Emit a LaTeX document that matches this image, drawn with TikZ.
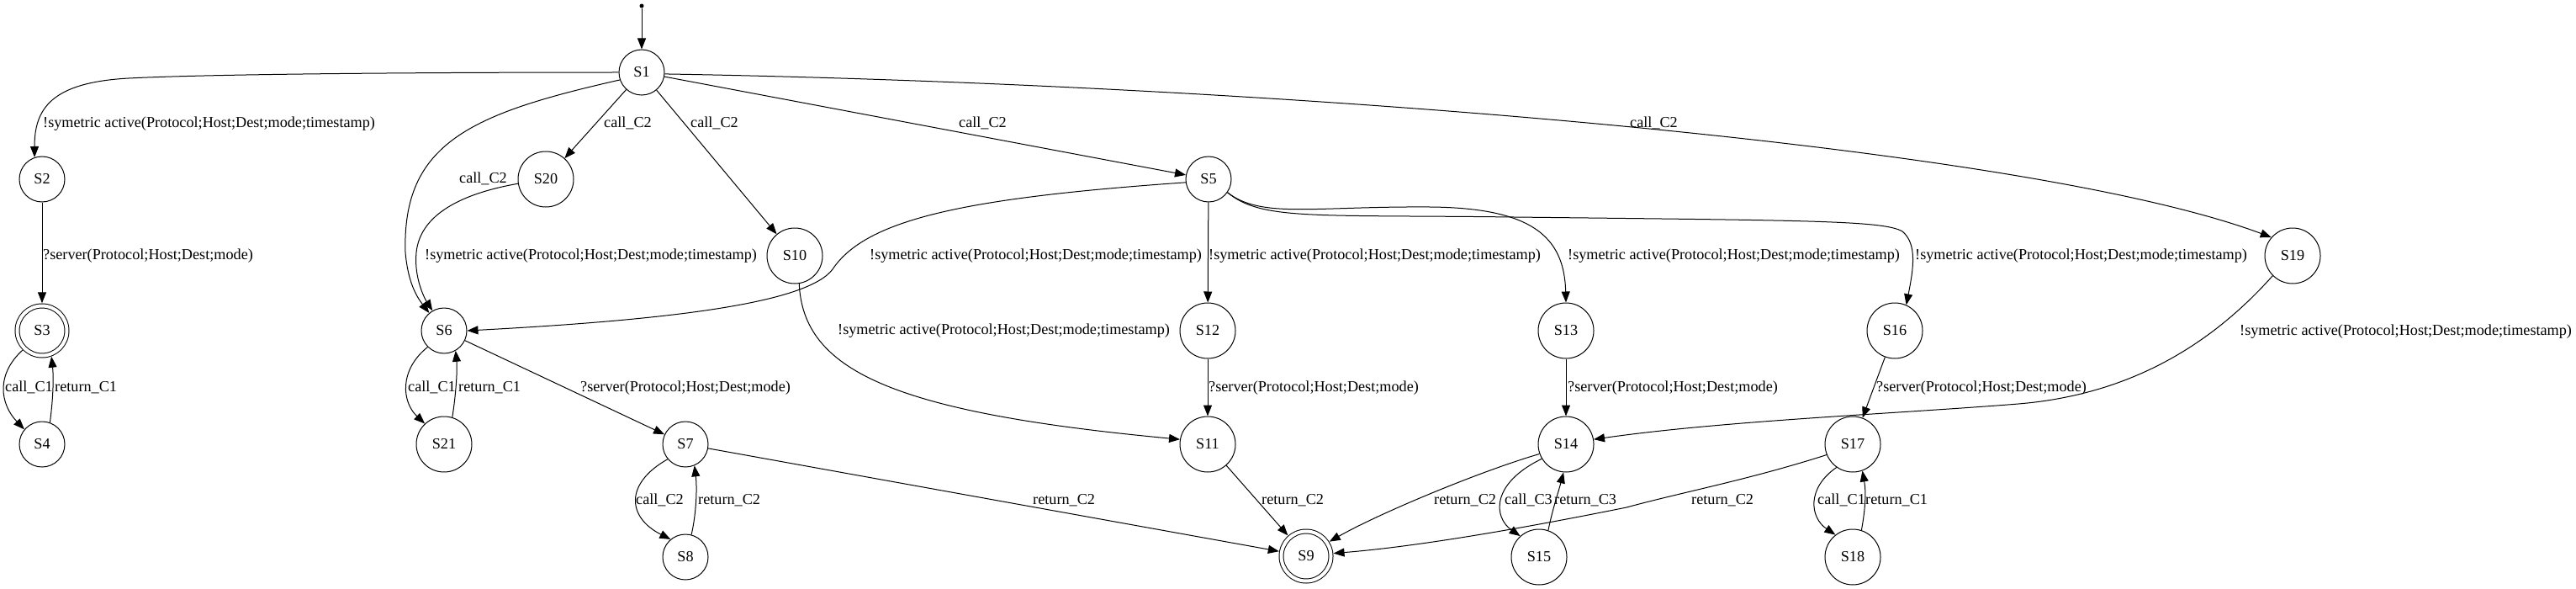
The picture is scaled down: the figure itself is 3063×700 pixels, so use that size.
\documentclass[tikz,border=0pt]{standalone}
\usepackage{fontspec}
\setmainfont{Liberation Serif}
\usepackage{tikz}
\usetikzlibrary{arrows.meta}
\newcommand{\gvfont}{\fontsize{18.2bp}{22bp}\selectfont}

\begin{document}
\begin{tikzpicture}[x=1bp, y=-1bp,
          state/.style={circle, draw, line width=1bp, minimum size=54bp,
                        inner sep=0pt, font=\gvfont},
          bigstate/.style={state, minimum size=66bp},
          final/.style={state, minimum size=59bp, double,
                        double distance=4bp, outer sep=3.2bp},
          dot/.style={circle, fill, inner sep=0pt, minimum size=5bp},
          tr/.style={-{Triangle[length=13bp, width=10bp]}, line width=1bp},
          lbl/.style={anchor=west, inner sep=0pt, text height=12.5bp,
                      text depth=4bp, font=\gvfont}
        ]
        \useasboundingbox (0,0) rectangle (3063,700);

        % States
        \node[dot]      (init) at (763,7)    {};
        \node[state]    (S1)   at (763,86)   {S1};
        \node[state]    (S2)   at (50,213)   {S2};
        \node[final]    (S3)   at (50,393)   {S3};
        \node[state]    (S4)   at (50,528)   {S4};
        \node[state]    (S5)   at (1437,213) {S5};
        \node[state]    (S6)   at (528,393)  {S6};
        \node[state]    (S7)   at (815,528)  {S7};
        \node[state]    (S8)   at (815,662)  {S8};
        \node[final]    (S9)   at (1553,661) {S9};
        \node[bigstate] (S10)  at (945,304)  {S10};
        \node[bigstate] (S11)  at (1436,528) {S11};
        \node[bigstate] (S12)  at (1436,393) {S12};
        \node[bigstate] (S13)  at (1862,393) {S13};
        \node[bigstate] (S14)  at (1862,528) {S14};
        \node[bigstate] (S15)  at (1830,662) {S15};
        \node[bigstate] (S16)  at (2253,393) {S16};
        \node[bigstate] (S17)  at (2203,528) {S17};
        \node[bigstate] (S18)  at (2203,662) {S18};
        \node[bigstate] (S19)  at (2726,304) {S19};
        \node[bigstate] (S20)  at (649,213)  {S20};
        \node[bigstate] (S21)  at (528,528)  {S21};

        % Transitions
        \draw[tr] (init) -- (S1);
        \draw[tr] (S1.west) .. controls (500,86) and (250,88) .. (153,93)
                  .. controls (60,98) and (41,130) .. (S2.109);
        \draw[tr] (S1) -- (S20);
        \draw[tr] (S1) -- (S10);
        \draw[tr] (S1) -- (S5);
        \draw[tr] (S1.199) .. controls (560,135) and (478,170) .. (482,300)
                  .. controls (485,335) and (495,352) .. (S6.130);
        \draw[tr] (S1.-4) .. controls (1500,100) and (2400,170) .. (S19.139);
        \draw[tr] (S20.189) .. controls (560,228) and (500,250) .. (495,300)
                  .. controls (492,330) and (505,355) .. (S6.120);
        \draw[tr] (S2) -- (S3);
        \draw[tr] (S3.225) .. controls (-5,445) and (0,480) .. (S4.140);
        \draw[tr] (S4.70) .. controls (63,475) and (64,450) .. (S3.290);
        \draw[tr] (S6.225) .. controls (474,440) and (478,478) .. (S21.133);
        \draw[tr] (S21.73) .. controls (542,470) and (544,440) .. (S6.300);
        \draw[tr] (S6) -- (S7);
        \draw[tr] (S7.220) .. controls (742,575) and (746,615) .. (S8.130);
        \draw[tr] (S8.75) .. controls (828,610) and (829,580) .. (S7.293);
        \draw[tr] (S7) -- (S9);
        \draw[tr] (S5.188) .. controls (1150,235) and (1030,260) .. (990,320)
                  .. controls (960,360) and (800,380) .. (S6.east);
        \draw[tr] (S5) -- (S12);
        \draw[tr] (S5.-35) .. controls (1500,260) and (1560,245) .. (1700,246)
                  .. controls (1820,247) and (1860,280) .. (S13.north);
        \draw[tr] (S5.-35) .. controls (1500,262) and (1560,255) .. (1800,258)
                  .. controls (2150,262) and (2240,262) .. (2262,275)
                  .. controls (2280,290) and (2275,320) .. (S16.66);
        \draw[tr] (S10.-81) .. controls (955,440) and (1060,490) .. (S11.170);
        \draw[tr] (S12) -- (S11);
        \draw[tr] (S11) -- (S9);
        \draw[tr] (S13) -- (S14);
        \draw[tr] (S14.200) .. controls (1760,560) and (1640,610) .. (S9.32);
        \draw[tr] (S14.211) .. controls (1772,575) and (1776,615) .. (S15.132);
        \draw[tr] (S15.71) .. controls (1846,605) and (1853,585) .. (S14.265);
        \draw[tr] (S16) -- (S17);
        \draw[tr] (S17.202) .. controls (2080,570) and (2000,585) .. (1934,603)
                  .. controls (1800,630) and (1680,650) .. (S9.6);
        \draw[tr] (S17.235) .. controls (2148,580) and (2152,615) .. (S18.128);
        \draw[tr] (S18.72) .. controls (2218,605) and (2219,585) .. (S17.290);
        \draw[tr] (S19.225) .. controls (2620,420) and (2520,470) .. (2400,480)
                  .. controls (2250,492) and (2050,500) .. (S14.10);

        % Labels
        \node[lbl] (e1to2)   at (51,147)   {!symetric active(Protocol;Host;Dest;mode;timestamp)};
        \node[lbl] (e1to20)  at (718,147)  {call\_C2};
        \node[lbl] (e1to10)  at (821,147)  {call\_C2};
        \node[lbl] (e1to5)   at (1140,147) {call\_C2};
        \node[lbl] (e1to19)  at (1938,147) {call\_C2};
        \node[lbl] (e1to6)   at (546,213)  {call\_C2};
        \node[lbl] (e2to3)   at (51,304)   {?server(Protocol;Host;Dest;mode)};
        \node[lbl] (e20to6)  at (505,304)  {!symetric active(Protocol;Host;Dest;mode;timestamp)};
        \node[lbl] (e5to6)   at (1034,304) {!symetric active(Protocol;Host;Dest;mode;timestamp)};
        \node[lbl] (e5to12)  at (1437,304) {!symetric active(Protocol;Host;Dest;mode;timestamp)};
        \node[lbl] (e5to13)  at (1864,304) {!symetric active(Protocol;Host;Dest;mode;timestamp)};
        \node[lbl] (e5to16)  at (2277,304) {!symetric active(Protocol;Host;Dest;mode;timestamp)};
        \node[lbl] (e10to11) at (996,393)  {!symetric active(Protocol;Host;Dest;mode;timestamp)};
        \node[lbl] (e19to14) at (2663,394) {!symetric active(Protocol;Host;Dest;mode;timestamp)};
        \node[lbl] (e3to4)   at (6,461)    {call\_C1};
        \node[lbl] (e4to3)   at (65,461)   {return\_C1};
        \node[lbl] (e6to21)  at (485,461)  {call\_C1};
        \node[lbl] (e21to6)  at (545,461)  {return\_C1};
        \node[lbl] (e6to7)   at (690,461)  {?server(Protocol;Host;Dest;mode)};
        \node[lbl] (e12to11) at (1437,461) {?server(Protocol;Host;Dest;mode)};
        \node[lbl] (e13to14) at (1864,461) {?server(Protocol;Host;Dest;mode)};
        \node[lbl] (e16to17) at (2231,461) {?server(Protocol;Host;Dest;mode)};
        \node[lbl] (e7to8)   at (756,595)  {call\_C2};
        \node[lbl] (e8to7)   at (830,595)  {return\_C2};
        \node[lbl] (e7to9)   at (1228,595) {return\_C2};
        \node[lbl] (e11to9)  at (1500,595) {return\_C2};
        \node[lbl] (e14to9)  at (1705,595) {return\_C2};
        \node[lbl] (e14to15) at (1789,595) {call\_C3};
        \node[lbl] (e15to14) at (1848,595) {return\_C3};
        \node[lbl] (e17to9)  at (2011,595) {return\_C2};
        \node[lbl] (e17to18) at (2161,595) {call\_C1};
        \node[lbl] (e18to17) at (2218,595) {return\_C1};
      \end{tikzpicture}
\end{document}
